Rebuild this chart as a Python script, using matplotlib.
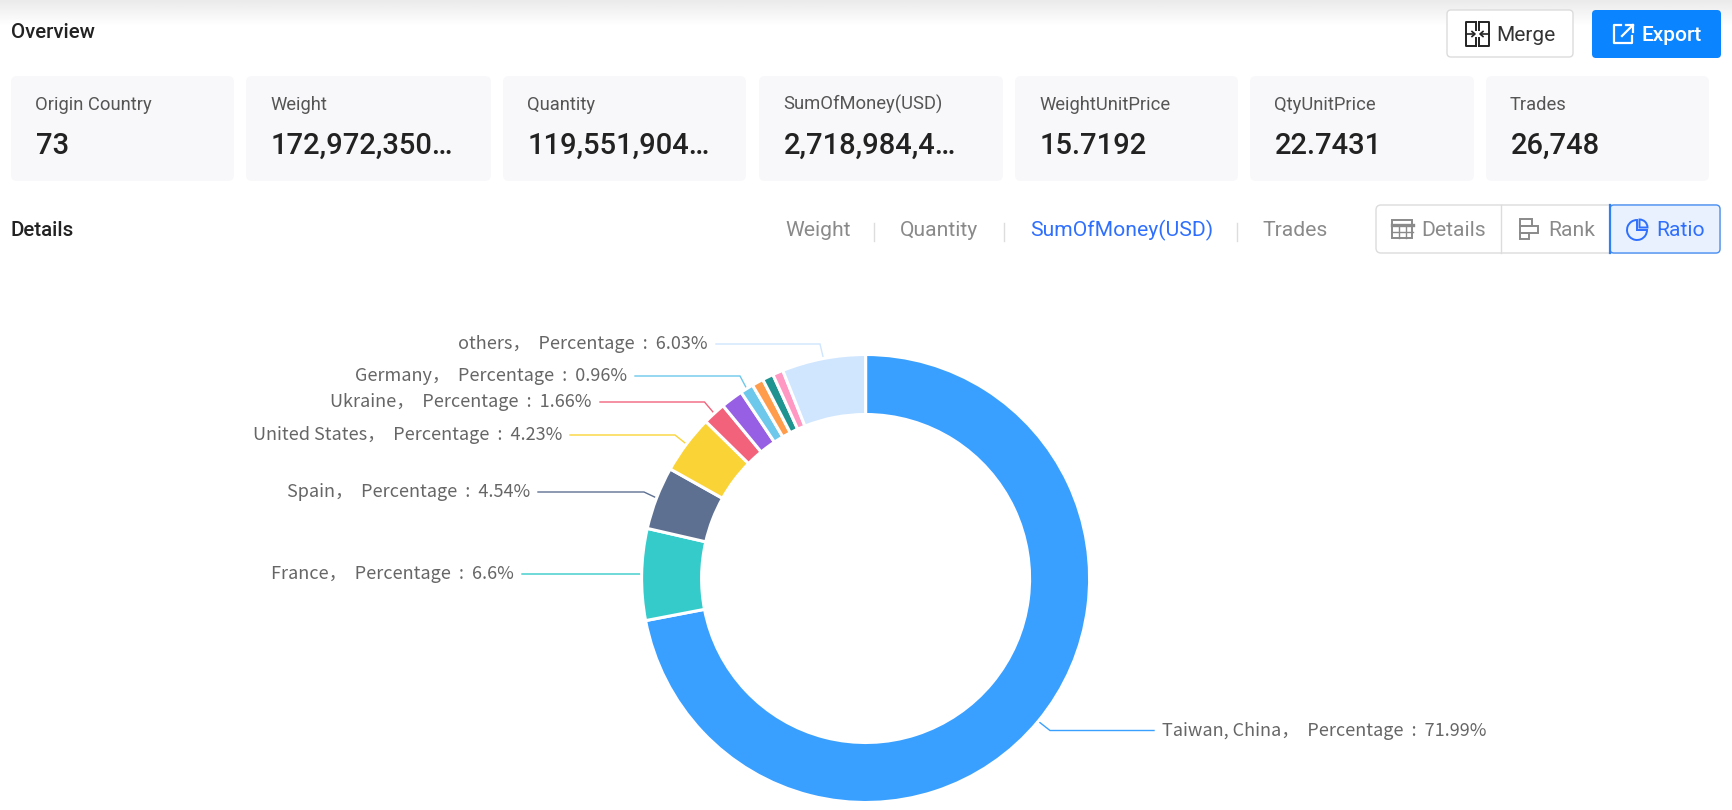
import numpy as np
import matplotlib
matplotlib.use('Agg')
import matplotlib.pyplot as plt
from matplotlib.patches import FancyBboxPatch, Rectangle, Wedge

W, H = 1733, 810

# summary cards
card_labels = ['Origin Country', 'Weight', 'Quantity', 'SumOfMoney(USD)', 'WeightUnitPrice', 'QtyUnitPrice', 'Trades']
card_values = ['73', '172,972,350\u2026', '119,551,904\u2026', '2,718,984,4\u2026', '15.7192', '22.7431', '26,748']
card_left = [11, 246, 503, 759, 1015, 1250, 1486]
card_right = [234, 491, 746, 1003, 1238, 1474, 1709]

# donut
countries = ['Taiwan, China', 'France', 'Spain', 'United States', 'Ukraine', '', 'Germany', '', '', '', 'others']
shares = [71.99, 6.6, 4.54, 4.23, 1.66, 1.6, 0.96, 0.83, 0.8, 0.76, 6.03]
share_text = ['71.99%', '6.6%', '4.54%', '4.23%', '1.66%', '', '0.96%', '', '', '', '6.03%']
colors = ['#3aa0ff', '#36cbcb', '#5d7092', '#fad337', '#f2637b', '#975fe4', '#6dc8ec', '#ff9d4d', '#1f9390', '#ff99c3', '#d0e6fe']

# where the label goes: index of slice, y of the leader, x of elbow, x of leader end
label_spots = [
    (0, 730.5, 1050, 1154),
    (1, 574, 640, 522),
    (2, 492, 644, 538),
    (3, 435, 675, 570),
    (4, 402, 704.5, 600),
    (6, 376, 740, 635),
    (10, 344, 820, 716),
]

cx, cy, R, r = 865.6, 578.5, 224, 164

fig = plt.figure(figsize=(W / 100, H / 100), dpi=100, facecolor='white')
ax = fig.add_axes([0, 0, 1, 1])
ax.set_xlim(0, W)
ax.set_ylim(H, 0)
ax.axis('off')

UI = 'Roboto'
CJK = ['Noto Sans CJK SC', 'DejaVu Sans']
GREY = '#8a8a8a'
BLUE = '#2f6fff'

# shadow on top of the page
shade = np.linspace(0.92, 1, 50).reshape(-1, 1)
ax.imshow(shade, extent=(0, W, 26, 0), cmap='gray', vmin=0, vmax=1, aspect='auto', zorder=0)
ax.set_xlim(0, W)
ax.set_ylim(H, 0)


def box(x0, y0, x1, y1, rad=6, fc='white', ec='none', lw=1, z=1):
    ax.add_patch(FancyBboxPatch((x0 + rad, y0 + rad), x1 - x0 - 2 * rad, y1 - y0 - 2 * rad,
                                boxstyle='round,pad=%s,rounding_size=%s' % (rad, rad),
                                fc=fc, ec=ec, lw=lw, zorder=z))


def line(xs, ys, c, lw=1.4):
    ax.plot(xs, ys, color=c, lw=lw, zorder=3)


ax.text(11, 37.5, 'Overview', family=UI, fontsize=14.8, weight='medium', color='#222222', zorder=3)
ax.text(11, 236.5, 'Details', family=UI, fontsize=14.8, weight='medium', color='#222222', zorder=3)

for i in range(len(card_labels)):
    box(card_left[i], 76, card_right[i], 181, fc='#f8f8fa')
    ax.text(card_left[i] + 24, 110, card_labels[i], family=UI, fontsize=13.2, color='#555555', zorder=3)
    ax.text(card_left[i] + 25, 154, card_values[i], family=UI, fontsize=21, weight='medium', color='#222222', zorder=3)

# buttons
box(1447, 10, 1573, 57, rad=4, ec='#dcdcdc', lw=1)
ax.text(1496, 41, 'Merge', family=UI, fontsize=15, color='#333333', zorder=3)
box(1592, 10, 1721, 58, rad=4, fc='#0a84ff')
ax.text(1642, 41, 'Export', family=UI, fontsize=15, weight='medium', color='white', zorder=3)

# merge icon
for xs in ([1476, 1466, 1466, 1476], [1479, 1489, 1489, 1479]):
    line(xs, [22, 22, 46, 46], '#222222')
    line([xs[0], xs[0]], [22, 30], '#222222')
    line([xs[0], xs[0]], [38, 46], '#222222')
line([1466, 1474], [34, 34], '#222222', 1.2)
line([1481, 1489], [34, 34], '#222222', 1.2)
line([1472, 1475, 1472], [31.5, 34, 36.5], '#222222', 1.2)
line([1483, 1480, 1483], [31.5, 34, 36.5], '#222222', 1.2)

# export icon
line([1621, 1614, 1614, 1632, 1632], [25, 25, 43, 43, 36], 'white', 1.6)
line([1622, 1633], [36, 25], 'white', 1.6)
line([1626, 1633, 1633], [25, 25, 32], 'white', 1.6)

# tabs
tab_names = ['Weight', 'Quantity', 'SumOfMoney(USD)', 'Trades']
tab_left = [785, 900, 1030, 1262.5]
tab_colors = [GREY, GREY, BLUE, GREY]
for name, x, c in zip(tab_names, tab_left, tab_colors):
    ax.text(x, 236, name, family=UI, fontsize=15.2, color=c, zorder=3)
for x in [874, 1004, 1237]:
    line([x, x], [223, 241], '#dddddd', 1)

# view switch
box(1376, 205, 1720, 253, rad=5, ec='#dcdcdc', lw=1)
box(1610, 205, 1720, 253, rad=4, fc='#e8f1fd', ec='#4a90f5', lw=1, z=2)
line([1610, 1610], [205, 253], '#2f80f0', 1.6)
line([1501, 1501], [205, 253], '#dcdcdc', 1)
ax.text(1421, 236, 'Details', family=UI, fontsize=15.2, color=GREY, zorder=3)
ax.text(1548, 236, 'Rank', family=UI, fontsize=15.2, color=GREY, zorder=3)
ax.text(1656.5, 236, 'Ratio', family=UI, fontsize=15.2, color=BLUE, zorder=3)

# table icon
ax.add_patch(Rectangle((1392.5, 220), 20, 18, fc='none', ec=GREY, lw=1.4, zorder=3))
line([1392, 1413], [225, 225], GREY, 2.4)
line([1392, 1413], [231.5, 231.5], GREY, 1)
for x in [1399, 1406]:
    line([x, x], [225, 238], GREY, 1)

# rank icon
ax.add_patch(Rectangle((1520, 219), 12, 7, fc='none', ec=GREY, lw=1.4, zorder=3))
ax.add_patch(Rectangle((1520, 226), 18, 7, fc='none', ec=GREY, lw=1.4, zorder=3))
ax.add_patch(Rectangle((1520, 233), 9, 6, fc='none', ec=GREY, lw=1.4, zorder=3))

# ratio icon
ax.add_patch(Wedge((1637, 230), 10, 0, 270, fc='none', ec=BLUE, lw=1.4, zorder=3))
ax.add_patch(Wedge((1639.5, 227.5), 8, 270, 360, fc='none', ec=BLUE, lw=1.4, zorder=3))

# donut in its own axes so the wedges keep normal orientation
ax2 = fig.add_axes([(cx - R) / W, 1 - (cy + R) / H, 2 * R / W, 2 * R / H])
ax2.pie(shares, colors=colors, startangle=90, counterclock=False, radius=1,
        wedgeprops=dict(width=1 - r / R, edgecolor='white', linewidth=2.2))
ax2.set_xlim(-1, 1)
ax2.set_ylim(-1, 1)
ax2.patch.set_alpha(0)

# leaders and labels, starting from the middle of each slice
cum = np.cumsum(shares)
mids = (cum - np.array(shares) / 2) / 100 * 2 * np.pi
for idx, ly, elbow, end in label_spots:
    sx = cx + (R + 1) * np.sin(mids[idx])
    sy = cy - (R + 1) * np.cos(mids[idx])
    ax.plot([sx, elbow, end], [sy, ly, ly], color=colors[idx], lw=1, zorder=3, solid_joinstyle='miter')
    txt = countries[idx] + '\uff0c  Percentage  :  ' + share_text[idx]
    if end > cx:
        ax.text(end + 8, ly, txt, family=CJK, fontsize=13, color='#666666', ha='left', va='center', zorder=3)
    else:
        ax.text(end - 8, ly, txt, family=CJK, fontsize=13, color='#666666', ha='right', va='center', zorder=3)

plt.savefig('out.png', dpi=100)
